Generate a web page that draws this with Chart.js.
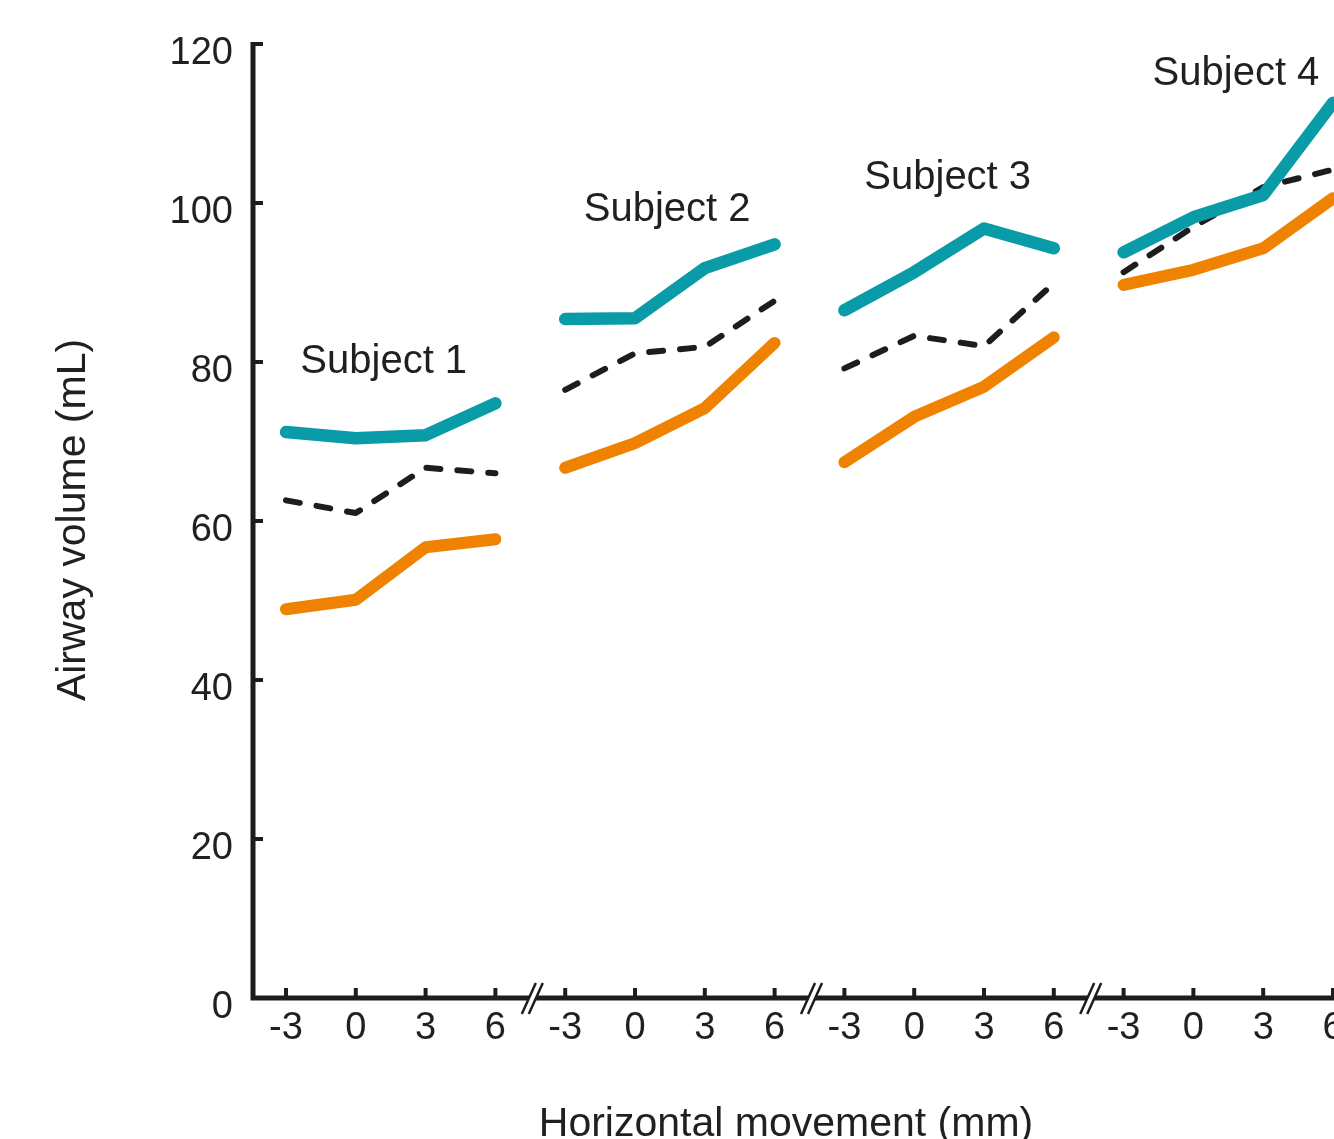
<!DOCTYPE html>
<html>
<head>
<meta charset="utf-8">
<script src="https://cdn.jsdelivr.net/npm/chart.js@4.4.1/dist/chart.umd.min.js"></script>
<style>
  html, body { margin: 0; padding: 0; background: #ffffff; overflow: hidden; }
  #c { display: block; }
</style>
</head>
<body>
<canvas id="c" width="1334" height="1139"></canvas>
<script>
// ---- data ----
const positionLabels = ['-3', '0', '3', '6'];
const subjects = ['Subject 1', 'Subject 2', 'Subject 3', 'Subject 4'];
const tealValues = [
  [71.2, 70.4, 70.8, 74.8],
  [85.4, 85.5, 91.8, 94.8],
  [86.5, 91.3, 96.8, 94.3],
  [93.8, 98.2, 101.0, 112.6]
];
const dashedValues = [
  [62.6, 61.0, 66.7, 66.0],
  [76.5, 81.1, 81.9, 87.7],
  [79.2, 83.3, 82.0, 89.9],
  [91.3, 97.0, 102.0, 104.2]
];
const orangeValues = [
  [48.9, 50.1, 56.7, 57.7],
  [66.7, 69.8, 74.2, 82.4],
  [67.4, 73.1, 76.9, 83.1],
  [89.7, 91.6, 94.3, 100.6]
];
const yTickValues = [0, 20, 40, 60, 80, 100, 120];
// label anchors in data units (x centre, y baseline)
const subjectLabelX = [1.40, 5.46, 9.48, 13.61];
const subjectLabelY = [78.6, 97.7, 101.8, 114.8];

const TEAL = '#0a9ba8';
const ORANGE = '#ef8200';
const INK = '#1f1c1d';
const FONT = "'Liberation Sans', Arial, Helvetica, sans-serif";

function toPoints(vals, s) {
  return vals.map((v, j) => ({ x: s * positionLabels.length + j, y: v }));
}

const datasets = [];
subjects.forEach((name, s) => {
  datasets.push({
    label: name + ' lower', data: toPoints(orangeValues[s], s),
    borderColor: ORANGE, borderWidth: 12, order: 3,
    borderCapStyle: 'round', borderJoinStyle: 'round',
    pointRadius: 0, tension: 0, fill: false
  });
  datasets.push({
    label: name + ' mean', data: toPoints(dashedValues[s], s),
    borderColor: INK, borderWidth: 6, borderDash: [14, 17], order: 2,
    borderCapStyle: 'round', borderJoinStyle: 'round',
    pointRadius: 0, tension: 0, fill: false
  });
  datasets.push({
    label: name + ' upper', data: toPoints(tealValues[s], s),
    borderColor: TEAL, borderWidth: 12.5, order: 1,
    borderCapStyle: 'round', borderJoinStyle: 'round',
    pointRadius: 0, tension: 0, fill: false
  });
});

const nPos = subjects.length * positionLabels.length;

const axesPlugin = {
  id: 'axesPlugin',
  afterDraw(chart) {
    const ctx = chart.ctx;
    const xs = chart.scales.x, ys = chart.scales.y;
    const area = chart.chartArea;
    const ax = area.left, ay = area.bottom;
    ctx.save();
    ctx.strokeStyle = INK;
    ctx.fillStyle = INK;
    ctx.lineCap = 'butt';
    ctx.lineJoin = 'miter';

    // axis lines
    ctx.lineWidth = 5;
    ctx.beginPath();
    ctx.moveTo(ax, ys.getPixelForValue(120) - 2);
    ctx.lineTo(ax, ay);
    ctx.lineTo(chart.width + 5, ay);
    ctx.stroke();

    // y ticks (inward)
    ctx.lineWidth = 4;
    yTickValues.forEach(v => {
      const y = ys.getPixelForValue(v);
      ctx.beginPath();
      ctx.moveTo(ax, y);
      ctx.lineTo(ax + 10, y);
      ctx.stroke();
    });
    // x ticks (inward)
    for (let i = 0; i < nPos; i++) {
      const x = xs.getPixelForValue(i);
      ctx.beginPath();
      ctx.moveTo(x, ay);
      ctx.lineTo(x, ay - 10);
      ctx.stroke();
    }

    // axis breaks
    for (let s = 1; s < subjects.length; s++) {
      const cx = xs.getPixelForValue(s * positionLabels.length - 0.5) + 1;
      const yb = ay + 16, yt = ay - 15;
      ctx.fillStyle = '#ffffff';
      ctx.beginPath();
      ctx.moveTo(cx - 9.5, yb);
      ctx.lineTo(cx + 4.5, yt);
      ctx.lineTo(cx + 11.5, yt);
      ctx.lineTo(cx - 2.5, yb);
      ctx.closePath();
      ctx.fill();
      ctx.strokeStyle = INK;
      ctx.lineWidth = 2.5;
      ctx.beginPath();
      ctx.moveTo(cx - 9.5, yb); ctx.lineTo(cx + 4.5, yt);
      ctx.moveTo(cx - 2.5, yb); ctx.lineTo(cx + 11.5, yt);
      ctx.stroke();
    }

    ctx.fillStyle = '#231f20';
    // y tick labels
    ctx.font = '38px ' + FONT;
    ctx.textAlign = 'right';
    ctx.textBaseline = 'alphabetic';
    yTickValues.forEach(v => {
      ctx.fillText(String(v), ax - 20, ys.getPixelForValue(v) + 20);
    });
    // x tick labels
    ctx.textAlign = 'center';
    for (let i = 0; i < nPos; i++) {
      ctx.fillText(positionLabels[i % positionLabels.length], xs.getPixelForValue(i), ay + 41);
    }

    // subject labels
    ctx.font = '40px ' + FONT;
    subjects.forEach((name, s) => {
      ctx.fillText(name, xs.getPixelForValue(subjectLabelX[s]), ys.getPixelForValue(subjectLabelY[s]));
    });

    // axis titles
    ctx.font = '41px ' + FONT;
    ctx.fillText('Horizontal movement (mm)', 786, 1136);
    ctx.save();
    ctx.translate(85, 520);
    ctx.rotate(-Math.PI / 2);
    ctx.fillText('Airway volume (mL)', 0, 0);
    ctx.restore();

    ctx.restore();
  }
};

new Chart(document.getElementById('c'), {
  type: 'line',
  data: { datasets },
  options: {
    responsive: false,
    animation: false,
    devicePixelRatio: 1,
    layout: { padding: { left: 253, top: 44, right: 0, bottom: 141 } },
    plugins: { legend: { display: false }, tooltip: { enabled: false } },
    scales: {
      x: { type: 'linear', display: false, min: -0.4728, max: 15.0143 },
      y: { type: 'linear', display: false, min: 0, max: 120 }
    }
  },
  plugins: [axesPlugin]
});
</script>
</body>
</html>
